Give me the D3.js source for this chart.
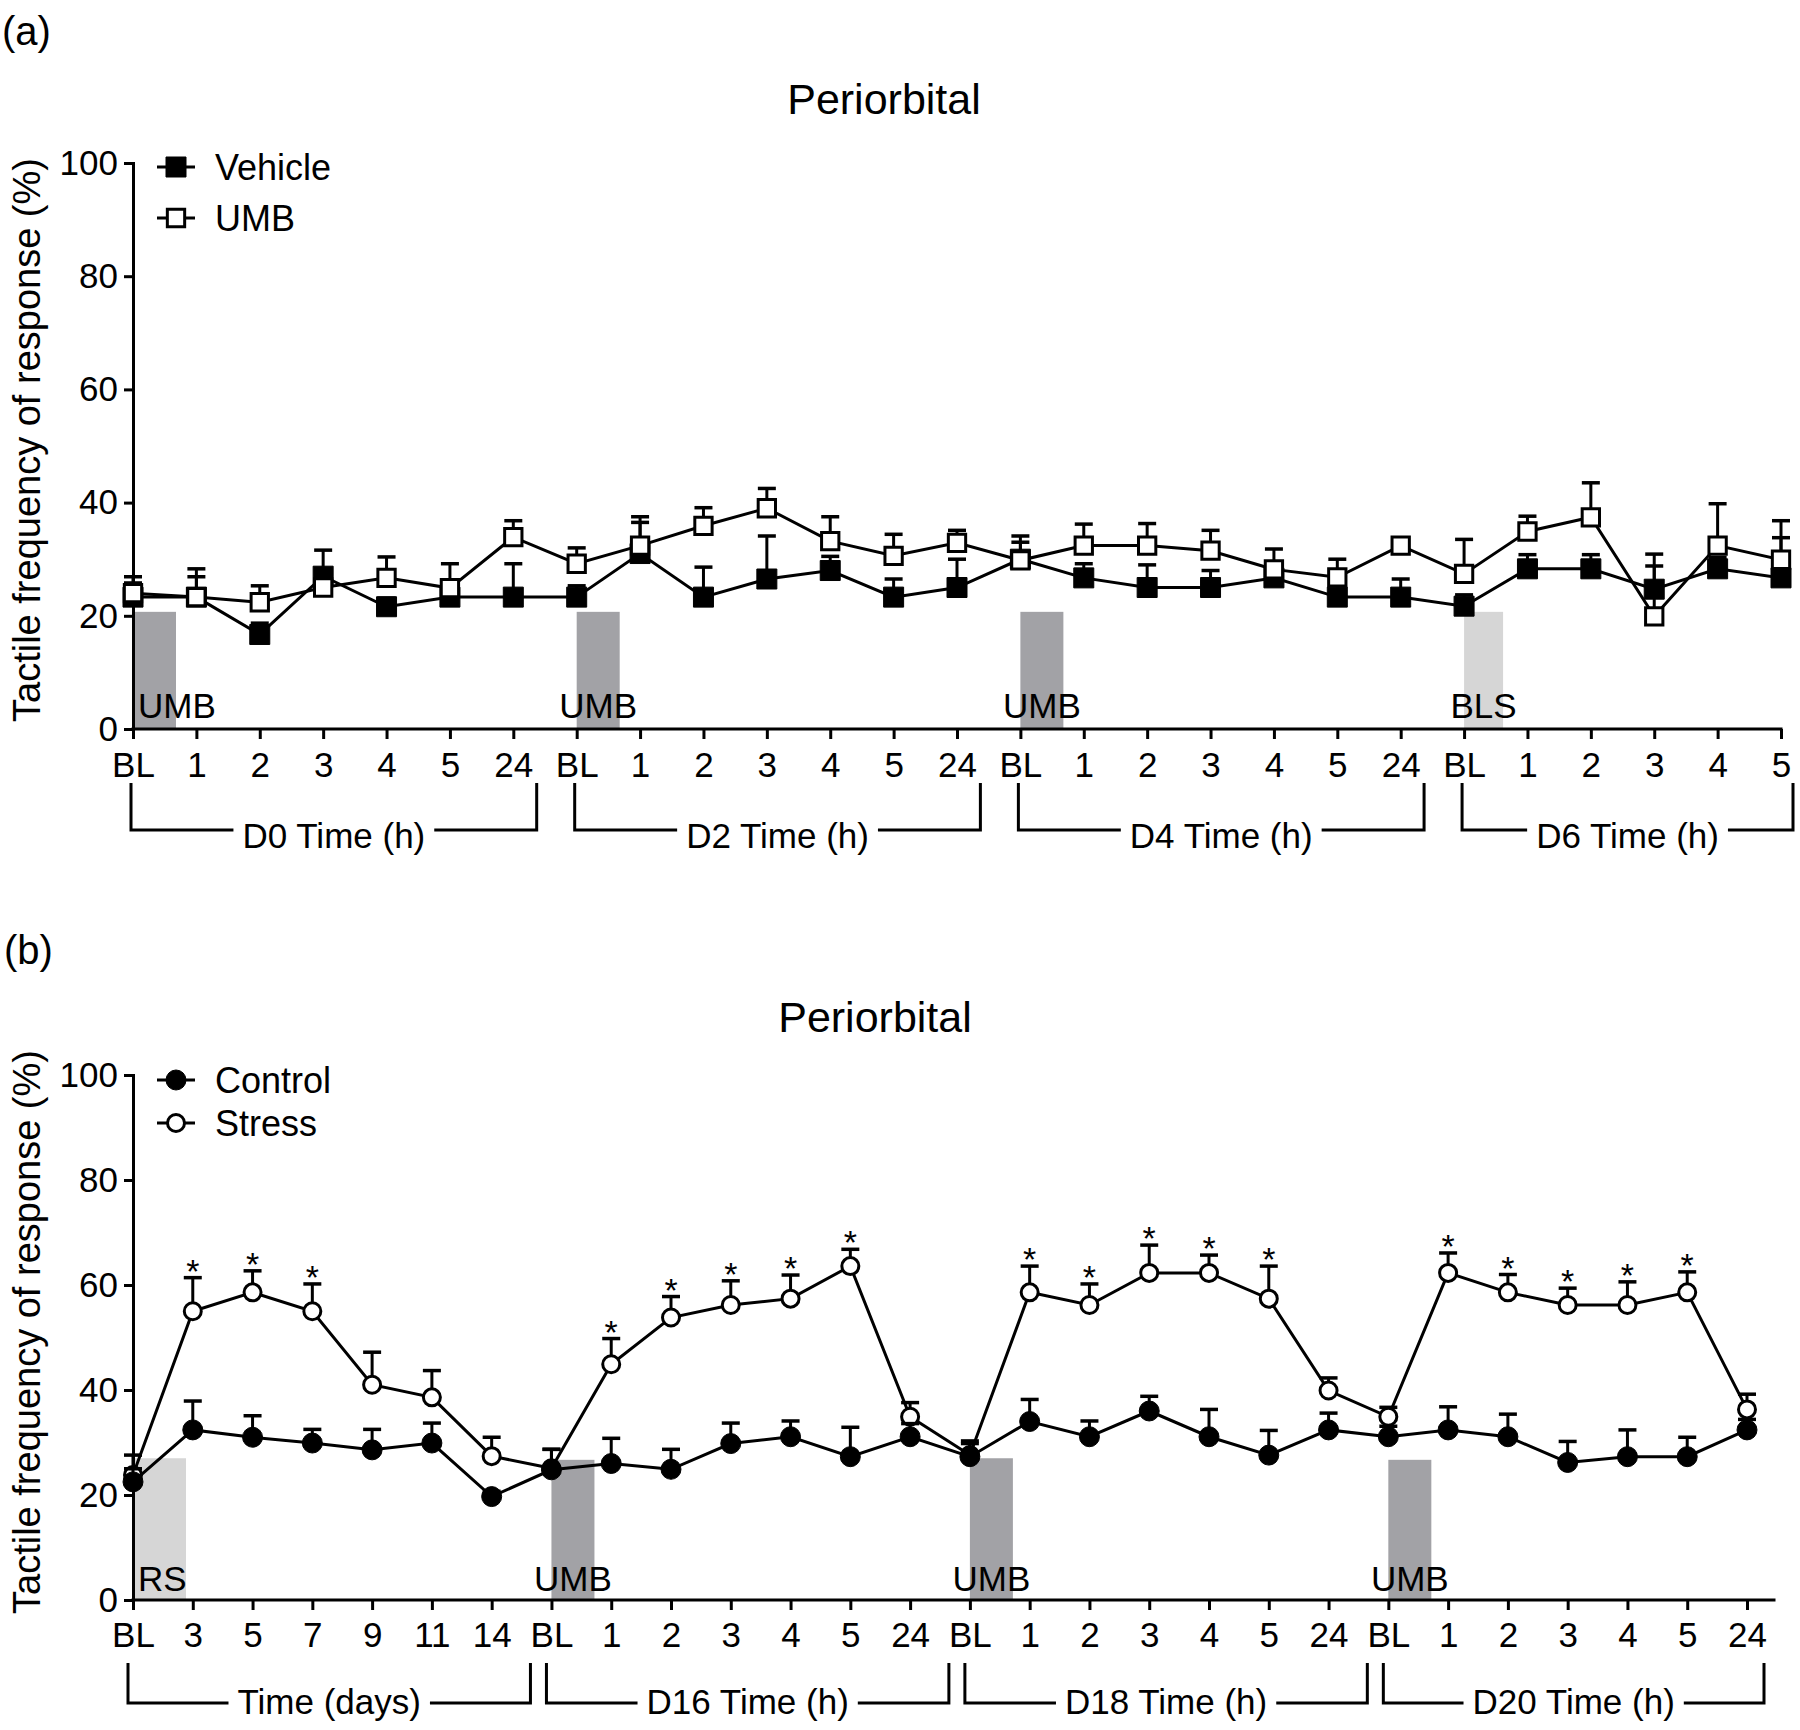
<!DOCTYPE html>
<html>
<head>
<meta charset="utf-8">
<script src="https://cdnjs.cloudflare.com/ajax/libs/d3/7.8.5/d3.min.js"></script>
<style>
  body { margin: 0; background: #fff; }
  text { font-family: "Liberation Sans", Arial, Helvetica, sans-serif; fill: #000; }
</style>
</head>
<body>
<div id="chart"></div>
<script>
// ---- DATA: panel (a)
var labelsA = ["BL","1","2","3","4","5","24",
               "BL","1","2","3","4","5","24",
               "BL","1","2","3","4","5","24",
               "BL","1","2","3","4","5"];
var groupsA = [
  {name: "D0 Time (h)", start: 0, end: 6},
  {name: "D2 Time (h)", start: 7, end: 13},
  {name: "D4 Time (h)", start: 14, end: 20},
  {name: "D6 Time (h)", start: 21, end: 26}
];
var vehicleMean = [23.3,23.3,16.7,27.0,21.6,23.3,23.3, 23.3,31.0,23.3,26.5,28.0,23.3,25.0,
                   30.0,26.7,25.0,25.0,26.7,23.3,23.3, 21.7,28.3,28.3,24.7,28.3,26.7];
var vehicleSem  = [2.5,3.6,2.0,4.6,1.5,2.0,5.9, 2.0,5.5,5.3,7.6,2.5,3.2,5.0,
                   3.0,2.5,4.0,3.0,2.0,2.0,3.2, 2.0,2.5,2.5,4.1,2.0,7.1];
var umbMean     = [24.0,23.3,22.4,25.0,26.7,24.9,33.9, 29.2,32.4,35.9,39.0,33.2,30.6,32.9,
                   29.8,32.4,32.4,31.5,28.2,26.8,32.4, 27.4,34.9,37.4,19.9,32.4,29.9];
var umbSem      = [2.9,5.0,2.9,1.5,3.7,4.3,2.9, 2.8,5.1,3.2,3.5,4.3,3.8,2.2,
                   4.3,3.8,3.9,3.6,3.6,3.2,1.0, 6.1,2.7,6.1,11.0,7.4,6.9];
var shadesA = [
  {at: 0, label: "UMB", top: 20.7, tone: "dark"},
  {at: 7, label: "UMB", top: 20.7, tone: "dark"},
  {at: 14, label: "UMB", top: 20.7, tone: "dark"},
  {at: 21, label: "BLS", top: 20.7, tone: "light"}
];

// ---- DATA: panel (b)
var labelsB = ["BL","3","5","7","9","11","14",
               "BL","1","2","3","4","5","24",
               "BL","1","2","3","4","5","24",
               "BL","1","2","3","4","5","24"];
var groupsB = [
  {name: "Time (days)", start: 0, end: 6},
  {name: "D16 Time (h)", start: 7, end: 13},
  {name: "D18 Time (h)", start: 14, end: 20},
  {name: "D20 Time (h)", start: 21, end: 27}
];
var controlMean = [22.5,32.4,31.0,29.9,28.6,29.9,19.7, 24.8,26.0,24.9,29.8,31.1,27.3,31.1,
                   27.3,34.0,31.1,36.0,31.1,27.6,32.4, 31.1,32.4,31.1,26.2,27.3,27.3,32.4];
var controlSem  = [2.5,5.5,4.1,2.6,3.9,3.8,1.0, 3.9,4.8,3.8,3.9,3.0,5.6,2.5,
                   2.5,4.2,3.0,2.8,5.2,4.7,3.2, 2.0,4.4,4.3,4.0,5.1,3.7,2.0];
var stressMean  = [23.8,55.0,58.6,55.0,41.0,38.6,27.4, 25.1,44.9,53.8,56.2,57.4,63.6,34.9,
                   27.6,58.6,56.2,62.3,62.3,57.4,39.9, 34.9,62.3,58.6,56.2,56.2,58.6,36.3];
var stressSem   = [3.8,6.4,4.1,5.2,6.2,5.1,3.6, 3.6,4.9,4.0,4.6,4.5,3.2,2.7,
                   2.7,5.0,4.0,5.3,3.4,6.2,2.4, 1.8,3.8,3.4,3.2,4.4,3.9,2.9];
var stressSig   = [1,2,3, 8,9,10,11,12, 15,16,17,18,19, 22,23,24,25,26];
var shadesB = [
  {at: 0, label: "RS", top: 27.0, tone: "light"},
  {at: 7, label: "UMB", top: 26.7, tone: "dark"},
  {at: 14, label: "UMB", top: 27.0, tone: "dark"},
  {at: 21, label: "UMB", top: 26.7, tone: "dark"}
];

var yTicks = [0, 20, 40, 60, 80, 100];
var yTitle = "Tactile frequency of response (%)";
var shadeColor = {dark: "#a2a2a6", light: "#d6d6d6"};

var svg = d3.select("#chart").append("svg")
    .attr("width", 1800)
    .attr("height", 1730);

svg.append("rect")
    .attr("width", 1800)
    .attr("height", 1730)
    .attr("fill", "#fff");

function drawPanel(p) {
    var g = svg.append("g");
    var x = d3.scaleLinear().domain([0, p.labels.length - 1]).range([p.x0, p.x1]);
    var y = d3.scaleLinear().domain([0, 100]).range([p.y0, p.y1]);

    // panel letter and title
    g.append("text")
        .attr("x", p.tagX).attr("y", p.tagY)
        .attr("font-size", 40)
        .text(p.tag);
    g.append("text")
        .attr("x", p.titleX).attr("y", p.titleY)
        .attr("text-anchor", "middle")
        .attr("font-size", 43)
        .text("Periorbital");

    // treatment shading
    p.shades.forEach(function(s) {
        var sx = x(s.at), w = p.shadeW[s.tone];
        g.append("rect")
            .attr("x", sx)
            .attr("y", y(s.top))
            .attr("width", w)
            .attr("height", y(0) - y(s.top))
            .attr("fill", shadeColor[s.tone]);
        g.append("text")
            .attr("x", s.at === 0 ? sx + 5 : sx + w / 2)
            .attr("y", p.shadeLabelY)
            .attr("text-anchor", s.at === 0 ? "start" : "middle")
            .attr("font-size", 35)
            .text(s.label);
    });

    // AXES
    var yAxis = d3.axisLeft(y)
        .tickValues(yTicks)
        .tickSize(9)
        .tickSizeOuter(0)
        .tickPadding(6);
    var ya = g.append("g")
        .attr("transform", "translate(" + p.x0 + ",0)")
        .call(yAxis);

    var xAxis = d3.axisBottom(x)
        .tickValues(d3.range(p.labels.length))
        .tickFormat(function(i) { return p.labels[i]; })
        .tickSize(10)
        .tickSizeOuter(0)
        .tickPadding(p.xPad);
    var xa = g.append("g")
        .attr("transform", "translate(0," + p.y0 + ")")
        .call(xAxis);
    xa.select(".domain").attr("d", "M" + p.x0 + ",0H" + p.axisEnd);

    [ya, xa].forEach(function(a) {
        a.select(".domain").attr("stroke", "#000").attr("stroke-width", 3).attr("stroke-linecap", "square");
        a.selectAll(".tick line").attr("stroke", "#000").attr("stroke-width", 3);
        a.selectAll(".tick text")
            .attr("font-size", 35)
            .attr("fill", "#000")
            .attr("font-family", "'Liberation Sans', Arial, sans-serif");
    });

    g.append("text")
        .attr("transform", "translate(" + p.yTitleX + "," + p.yTitleY + ") rotate(-90)")
        .attr("text-anchor", "middle")
        .attr("font-size", 38)
        .text(yTitle);

    // group brackets under the axis
    p.groups.forEach(function(gr, k) {
        var L = x(gr.start) + p.bracketL;
        var R = k < p.groups.length - 1
            ? x(p.groups[k + 1].start) + p.bracketL - p.groupGap
            : x(gr.end) + p.lastExtra;
        var cx = (L + R) / 2;
        var t = g.append("text")
            .attr("x", cx).attr("y", p.bracketText)
            .attr("text-anchor", "middle")
            .attr("font-size", 35)
            .text(gr.name);
        var tw = t.node().getComputedTextLength();
        g.append("path")
            .attr("d", "M" + L + "," + p.bracketTop + "V" + p.bracketBottom + "H" + (cx - tw / 2 - 9) +
                       "M" + (cx + tw / 2 + 9) + "," + p.bracketBottom + "H" + R + "V" + p.bracketTop)
            .attr("fill", "none")
            .attr("stroke", "#000")
            .attr("stroke-width", 3);
    });

    // SERIES
    p.series.forEach(function(s) {
        var gs = g.append("g");
        s.mean.forEach(function(m, i) {
            var top = y(m + s.sem[i]);
            gs.append("line")
                .attr("x1", x(i)).attr("x2", x(i))
                .attr("y1", y(m)).attr("y2", top)
                .attr("stroke", "#000").attr("stroke-width", 3);
            gs.append("line")
                .attr("x1", x(i) - 9).attr("x2", x(i) + 9)
                .attr("y1", top).attr("y2", top)
                .attr("stroke", "#000").attr("stroke-width", 3.5);
        });
        gs.append("path")
            .datum(s.mean)
            .attr("d", d3.line().x(function(d, i) { return x(i); }).y(function(d) { return y(d); }))
            .attr("fill", "none")
            .attr("stroke", "#000")
            .attr("stroke-width", 3);
        var sym = d3.symbol().type(s.shape).size(s.size);
        gs.selectAll(".mk")
            .data(s.mean)
            .enter().append("path")
            .attr("class", "mk")
            .attr("transform", function(d, i) { return "translate(" + x(i) + "," + y(d) + ")"; })
            .attr("d", sym)
            .attr("fill", s.fill)
            .attr("stroke", "#000")
            .attr("stroke-width", s.fill === "#000" ? 1 : 3);

        // significance marks
        if (s.sig) {
            s.sig.forEach(function(i) {
                g.append("text")
                    .attr("x", x(i))
                    .attr("y", y(s.mean[i] + s.sem[i]) + p.starDy)
                    .attr("text-anchor", "middle")
                    .attr("font-size", 34)
                    .text("*");
            });
        }

        // legend
        var ly = p.legendY[s.row];
        g.append("line")
            .attr("x1", p.legendX - 19).attr("x2", p.legendX + 19)
            .attr("y1", ly).attr("y2", ly)
            .attr("stroke", "#000").attr("stroke-width", 3);
        g.append("path")
            .attr("transform", "translate(" + p.legendX + "," + ly + ")")
            .attr("d", sym)
            .attr("fill", s.fill)
            .attr("stroke", "#000")
            .attr("stroke-width", s.fill === "#000" ? 1 : 3);
        g.append("text")
            .attr("x", p.legendX + 39)
            .attr("y", ly + 13)
            .attr("font-size", 36)
            .text(s.name);
    });
}

drawPanel({
    tag: "(a)", tagX: 2, tagY: 45,
    titleX: 884, titleY: 114,
    x0: 133, x1: 1781, axisEnd: 1781,
    y0: 729, y1: 163,
    xPad: 13,
    yTitleX: 40, yTitleY: 440,
    labels: labelsA, groups: groupsA,
    bracketTop: 783, bracketBottom: 830, bracketText: 848,
    bracketL: -2, groupGap: 38, lastExtra: 12,
    shades: shadesA, shadeW: {dark: 43, light: 39}, shadeLabelY: 718,
    legendX: 176, legendY: [167, 218],
    starDy: 5,
    series: [
        {name: "Vehicle", row: 0, mean: vehicleMean, sem: vehicleSem, shape: d3.symbolSquare, size: 400, fill: "#000"},
        {name: "UMB", row: 1, mean: umbMean, sem: umbSem, shape: d3.symbolSquare, size: 300, fill: "#fff"}
    ]
});

drawPanel({
    tag: "(b)", tagX: 4, tagY: 964,
    titleX: 875, titleY: 1032,
    x0: 133, x1: 1747, axisEnd: 1774,
    y0: 1600, y1: 1075,
    xPad: 12,
    yTitleX: 40, yTitleY: 1332,
    labels: labelsB, groups: groupsB,
    bracketTop: 1663, bracketBottom: 1703, bracketText: 1714,
    bracketL: -5, groupGap: 16, lastExtra: 17,
    shades: shadesB, shadeW: {dark: 43, light: 53}, shadeLabelY: 1591,
    legendX: 176, legendY: [1080, 1123],
    starDy: 5,
    series: [
        {name: "Stress", row: 1, mean: stressMean, sem: stressSem, shape: d3.symbolCircle, size: 227, fill: "#fff", sig: stressSig},
        {name: "Control", row: 0, mean: controlMean, sem: controlSem, shape: d3.symbolCircle, size: 314, fill: "#000"}
    ]
});
</script>
</body>
</html>
